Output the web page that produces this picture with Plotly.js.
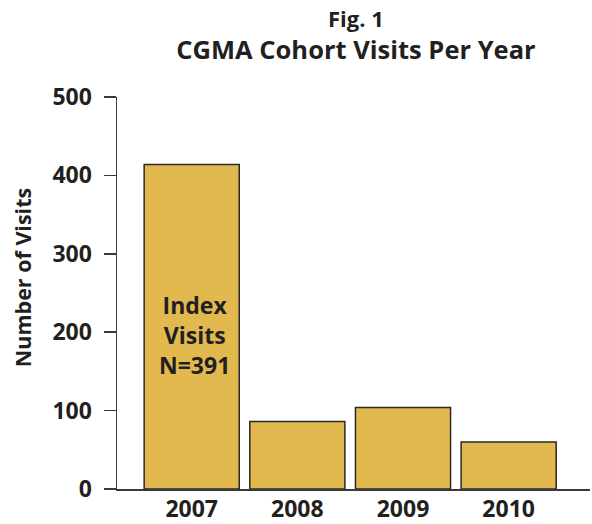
<!DOCTYPE html>
<html>
<head>
<meta charset="utf-8">
<script src="https://cdn.plot.ly/plotly-3.0.1.min.js"></script>
<style>html,body{margin:0;padding:0;background:#fff;}#chart{width:592px;height:524px;}</style>
</head>
<body>
<div id="chart"></div>
<script>
const years = ['2007', '2008', '2009', '2010'];
const visits = [414, 86, 104, 60];
const yTicks = [0, 100, 200, 300, 400, 500];
const noteText = 'Index<br>Visits<br>N=391';
const noteYear = '2007';
const noteValue = 197;

const FONT = '"Open Sans", "Noto Sans", sans-serif';
const INK = '#231f20';

const trace = {
  type: 'bar',
  x: years,
  y: visits,
  marker: { color: '#e1b94f', line: { color: '#2b2a28', width: 1.5 } },
  hoverinfo: 'skip'
};

const layout = {
  width: 592, height: 524,
  margin: { l: 117, r: 2, t: 97, b: 35 },
  paper_bgcolor: '#fff', plot_bgcolor: '#fff',
  font: { family: FONT, color: INK, size: 20 },
  bargap: 0.1,
  showlegend: false,
  title: {
    text: 'CGMA Cohort Visits Per Year',
    font: { family: FONT, size: 25.5, color: INK, weight: 'bold' },
    xref: 'container', yref: 'container',
    x: 356 / 592, xanchor: 'center', y: 1 - 41 / 524, yanchor: 'top'
  },
  xaxis: {
    type: 'category',
    range: [-0.707, 3.77],
    showline: true, linecolor: '#3a3a3a', linewidth: 1.5,
    ticks: '', showgrid: false, zeroline: false,
    ticklabelstandoff: -1,
    tickfont: { family: FONT, size: 23, color: INK, weight: 'bold' },
    fixedrange: true
  },
  yaxis: {
    range: [0, 500],
    tickvals: yTicks,
    ticktext: yTicks.map(String),
    showline: true, linecolor: '#3a3a3a', linewidth: 1.5,
    ticks: 'outside', ticklen: 12, tickwidth: 1.5, tickcolor: '#3a3a3a',
    ticklabelstandoff: 7,
    showgrid: false, zeroline: false,
    tickfont: { family: FONT, size: 23, color: INK, weight: 'bold' },
    fixedrange: true
  },
  annotations: [
    {
      x: (356 - 117) / 473, y: (489.3 - 18) / 392, xref: 'paper', yref: 'paper',
      text: 'Fig. 1', showarrow: false,
      font: { family: FONT, size: 22, color: INK, weight: 'bold' },
      xanchor: 'center', yanchor: 'middle'
    },
    {
      x: years.indexOf(noteYear), y: noteValue, xref: 'x', yref: 'y',
      text: noteText, showarrow: false, xshift: 3,
      font: { family: FONT, size: 23, color: INK, weight: 'bold' },
      align: 'center', xanchor: 'center', yanchor: 'middle'
    },
    {
      x: (22 - 117) / 473, y: (489.3 - 278.5) / 392, xref: 'paper', yref: 'paper',
      text: 'Number of Visits', textangle: -90, showarrow: false,
      font: { family: FONT, size: 21.5, color: INK, weight: 'bold' },
      xanchor: 'center', yanchor: 'middle'
    }
  ]
};

Plotly.newPlot('chart', [trace], layout, { displayModeBar: false, staticPlot: true });
</script>
</body>
</html>
